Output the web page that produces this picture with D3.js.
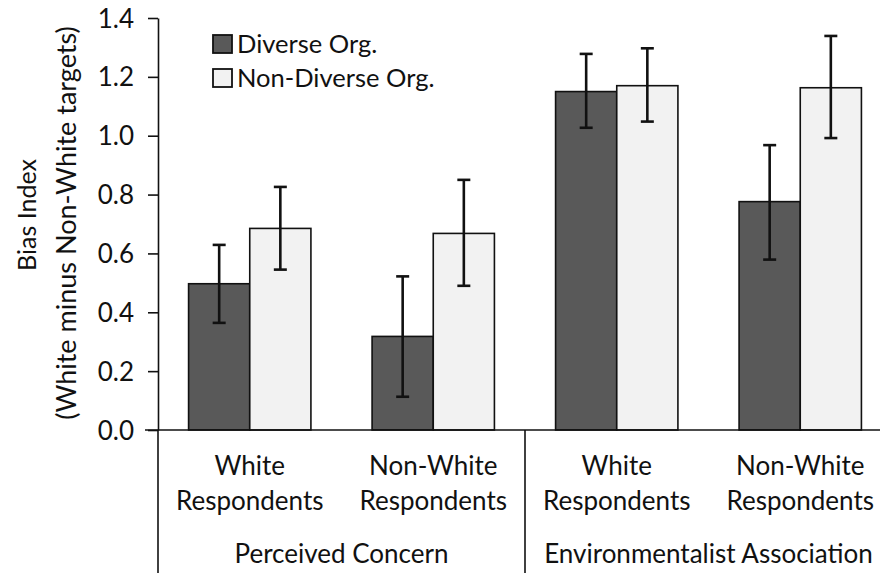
<!DOCTYPE html>
<html><head><meta charset="utf-8">
<script src="https://cdn.jsdelivr.net/npm/d3@7"></script>
<style>body{margin:0;background:#fff}svg{display:block}text{font-family:Lato,"Open Sans",sans-serif;fill:#111}</style>
</head><body><svg id="c" width="880" height="573"></svg>
<script>
const categories = ["White|Respondents","Non-White|Respondents","White|Respondents","Non-White|Respondents"];
const groups = ["Perceived Concern","Environmentalist Association"];
const series = ["Diverse Org.","Non-Diverse Org."];
const diverse = [0.497, 0.318, 1.150, 0.776];
const diverseLo = [0.364, 0.113, 1.027, 0.579];
const diverseHi = [0.629, 0.522, 1.278, 0.968];
const nonDiverse = [0.685, 0.668, 1.170, 1.163];
const nonDiverseLo = [0.545, 0.490, 1.048, 0.992];
const nonDiverseHi = [0.826, 0.850, 1.297, 1.339];
const yTicks = [0,0.2,0.4,0.6,0.8,1.0,1.2,1.4];

const svg = d3.select("#c");
const x0 = 158, x1 = 892, yB = 430, yT = 18;
const x = d3.scaleBand().domain(d3.range(categories.length)).range([x0,x1]).paddingInner(0).paddingOuter(0);
const xs = d3.scaleBand().domain(series).range([0,x.bandwidth()]).paddingInner(0).paddingOuter(0.5);
const y = d3.scaleLinear().domain([0,1.4]).range([yB,yT]);
const fills = ["#595959","#f2f2f2"];
const vals = [diverse, nonDiverse], lo=[diverseLo,nonDiverseLo], hi=[diverseHi,nonDiverseHi];

// bars
series.forEach((s,si)=>{
  svg.append("g").selectAll("rect").data(vals[si]).join("rect")
    .attr("x",(d,i)=>x(i)+xs(s)).attr("width",xs.bandwidth())
    .attr("y",d=>y(d)).attr("height",d=>y(0)-y(d))
    .attr("fill",fills[si]).attr("stroke","#111").attr("stroke-width",1.6);
});
// error bars
series.forEach((s,si)=>{
  const g = svg.append("g").attr("stroke","#111").attr("stroke-width",2.6);
  vals[si].forEach((d,i)=>{
    const cx = x(i)+xs(s)+xs.bandwidth()/2;
    g.append("line").attr("x1",cx).attr("x2",cx).attr("y1",y(lo[si][i])).attr("y2",y(hi[si][i]));
    [lo[si][i],hi[si][i]].forEach(v=>g.append("line").attr("x1",cx-6.5).attr("x2",cx+6.5).attr("y1",y(v)).attr("y2",y(v)));
  });
});

// y axis
const ya = svg.append("g").attr("transform",`translate(${x0},0)`)
  .call(d3.axisLeft(y).tickValues(yTicks).tickFormat(d3.format(".1f")).tickSize(10).tickSizeOuter(0));
ya.select(".domain").attr("stroke","#111").attr("stroke-width",1.6);
ya.selectAll(".tick line").attr("stroke","#111").attr("stroke-width",1.6);
ya.selectAll(".tick text").attr("x",-24).attr("dy","0.35em").style("font-size","26px").style("font-family","Lato").attr("fill","#111");

// x axis line
svg.append("line").attr("x1",145).attr("x2",880).attr("y1",yB).attr("y2",yB).attr("stroke","#111").attr("stroke-width",1.6);
// separators
[0,2].forEach(i=>{
  svg.append("line").attr("x1",x(i)).attr("x2",x(i)).attr("y1",yB).attr("y2",573).attr("stroke","#111").attr("stroke-width",1.6);
});

// category labels
categories.forEach((c,i)=>{
  const parts = c.split("|");
  const t = svg.append("text").attr("text-anchor","middle").style("font-size","26px");
  parts.forEach((p,k)=>t.append("tspan").attr("x",x(i)+x.bandwidth()/2).attr("y",475+k*35).text(p));
});
groups.forEach((g,gi)=>{
  svg.append("text").attr("text-anchor","middle").attr("x",(x(gi*2)+x(gi*2+1)+x.bandwidth())/2).attr("y",563)
    .style("font-size","26px").text(g);
});

// y title
svg.append("text").attr("text-anchor","middle").attr("transform",`translate(36,215) rotate(-90)`).style("font-size","25px").text("Bias Index");
svg.append("text").attr("text-anchor","middle").attr("transform",`translate(76,223) rotate(-90)`).style("font-size","27px").text("(White minus Non-White targets)");

// legend
series.forEach((s,si)=>{
  const ly = 44+si*34;
  svg.append("rect").attr("x",213).attr("y",ly-9).attr("width",19).attr("height",18).attr("fill",fills[si]).attr("stroke","#111").attr("stroke-width",1.8);
  svg.append("text").attr("x",237).attr("y",ly+9).style("font-size","25.5px").text(s);
});
</script></body></html>
